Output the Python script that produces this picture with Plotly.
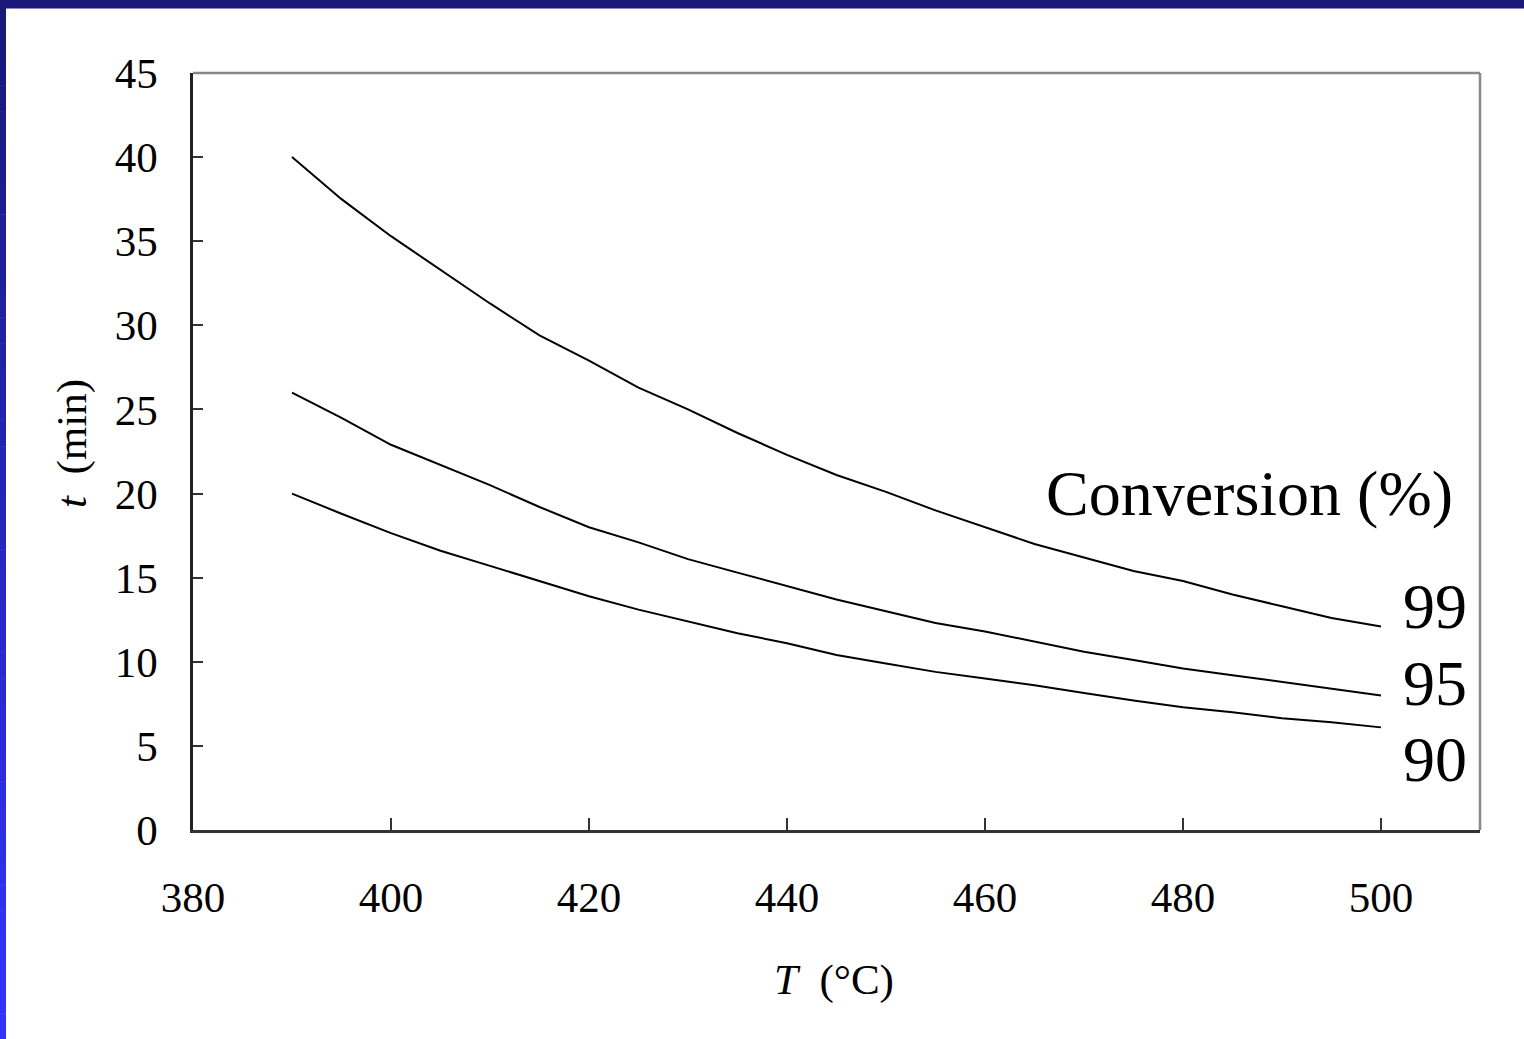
import plotly.graph_objects as go

# Reaction temperature (°C) and time (min) needed to reach each conversion level
temperature = [390, 395, 400, 405, 410, 415, 420, 425, 430, 435, 440, 445,
               450, 455, 460, 465, 470, 475, 480, 485, 490, 495, 500]
time_99 = [40.0, 37.5, 35.3, 33.3, 31.3, 29.4, 27.9, 26.3, 25.0, 23.6, 22.3, 21.1,
           20.1, 19.0, 18.0, 17.0, 16.2, 15.4, 14.8, 14.0, 13.3, 12.6, 12.1]
time_95 = [26.0, 24.5, 22.9, 21.7, 20.5, 19.2, 18.0, 17.1, 16.1, 15.3, 14.5, 13.7,
           13.0, 12.3, 11.8, 11.2, 10.6, 10.1, 9.6, 9.2, 8.8, 8.4, 8.0]
time_90 = [20.0, 18.8, 17.65, 16.6, 15.7, 14.8, 13.9, 13.1, 12.4, 11.7, 11.1, 10.4,
           9.9, 9.4, 9.0, 8.6, 8.15, 7.7, 7.3, 7.0, 6.65, 6.4, 6.1]
series = [("99", time_99), ("95", time_95), ("90", time_90)]

x_ticks = [380, 400, 420, 440, 460, 480, 500]
y_ticks = [0, 5, 10, 15, 20, 25, 30, 35, 40, 45]

W, H = 1524, 1039
ML, MR, MT, MB = 193, 44, 73, 209
FONT = "Liberation Serif"

fig = go.Figure()
for name, vals in series:
    fig.add_trace(go.Scatter(x=temperature, y=vals, mode="lines", name=name,
                             line=dict(color="black", width=2), showlegend=False))

# end-of-curve conversion labels
label_y = {"99": 13.3, "95": 8.7, "90": 4.2}
annotations = []
for name, _ in series:
    annotations.append(dict(x=502, y=label_y[name], xref="x", yref="y", text=name,
                            showarrow=False, xanchor="left", yanchor="middle",
                            font=dict(family=FONT, size=64, color="black")))
annotations.append(dict(x=(1455 - ML) / (W - ML - MR), y=20.0, xref="paper", yref="y",
                        text="Conversion (%)",
                        showarrow=False, xanchor="right", yanchor="middle",
                        font=dict(family=FONT, size=64, color="black")))
# axis titles
annotations.append(dict(x=(834 - ML) / (W - ML - MR), y=-(980 - (H - MB)) / (H - MT - MB),
                        xref="paper", yref="paper", text="<i>T</i>&nbsp;&nbsp;(°C)",
                        showarrow=False, xanchor="center", yanchor="middle",
                        font=dict(family=FONT, size=43, color="black")))
annotations.append(dict(x=-(ML - 72) / (W - ML - MR), y=(H - MB - 444) / (H - MT - MB),
                        xref="paper", yref="paper", text="<i>t</i>&nbsp;&nbsp;(min)",
                        textangle=-90, showarrow=False, xanchor="center", yanchor="middle",
                        font=dict(family=FONT, size=43, color="black")))

shapes = []
# plot frame: grey top and right edges
shapes.append(dict(type="line", xref="paper", yref="paper", x0=0, x1=1, y0=1, y1=1,
                   line=dict(color="#888888", width=2.5)))
shapes.append(dict(type="line", xref="paper", yref="paper", x0=1, x1=1, y0=0, y1=1,
                   line=dict(color="#888888", width=2.5)))

# page decoration: navy top band and a navy-to-blue left band
pw, ph = W - ML - MR, H - MT - MB
def px_x(p):
    return (p - ML) / pw
def px_y(p):
    return (H - MB - p) / ph

shapes.append(dict(type="rect", xref="paper", yref="paper", layer="below",
                   x0=px_x(0), x1=px_x(W), y0=px_y(0), y1=px_y(8.5),
                   fillcolor="#1a1878", line=dict(width=0)))
n = 40
c0, c1 = (26, 24, 120), (51, 51, 255)
for i in range(n):
    t = i / (n - 1)
    col = "rgb({},{},{})".format(*[round(a + (b - a) * t) for a, b in zip(c0, c1)])
    y0p = 8 + (H - 8) * i / n
    y1p = 8 + (H - 8) * (i + 1) / n
    shapes.append(dict(type="rect", xref="paper", yref="paper", layer="below",
                       x0=px_x(0), x1=px_x(6), y0=px_y(y1p + 0.5), y1=px_y(y0p),
                       fillcolor=col, line=dict(width=0)))

fig.update_layout(
    width=W, height=H,
    margin=dict(l=ML, r=MR, t=MT, b=MB, pad=0),
    paper_bgcolor="white", plot_bgcolor="white",
    font=dict(family=FONT, size=43, color="black"),
    annotations=annotations, shapes=shapes,
    xaxis=dict(range=[380, 510], tickvals=x_ticks, ticks="inside", ticklen=12,
               tickwidth=1.5, tickcolor="#333333", showgrid=False, zeroline=False,
               showline=True, linecolor="#333333", linewidth=2.5,
               ticklabelstandoff=28, tickfont=dict(family=FONT, size=43)),
    yaxis=dict(range=[0, 45], tickvals=y_ticks, ticks="inside", ticklen=10,
               tickwidth=1.5, tickcolor="#333333", showgrid=False, zeroline=False,
               showline=True, linecolor="#222222", linewidth=2.5,
               ticklabelstandoff=24, tickfont=dict(family=FONT, size=43)),
)

fig.write_html("out.html")
